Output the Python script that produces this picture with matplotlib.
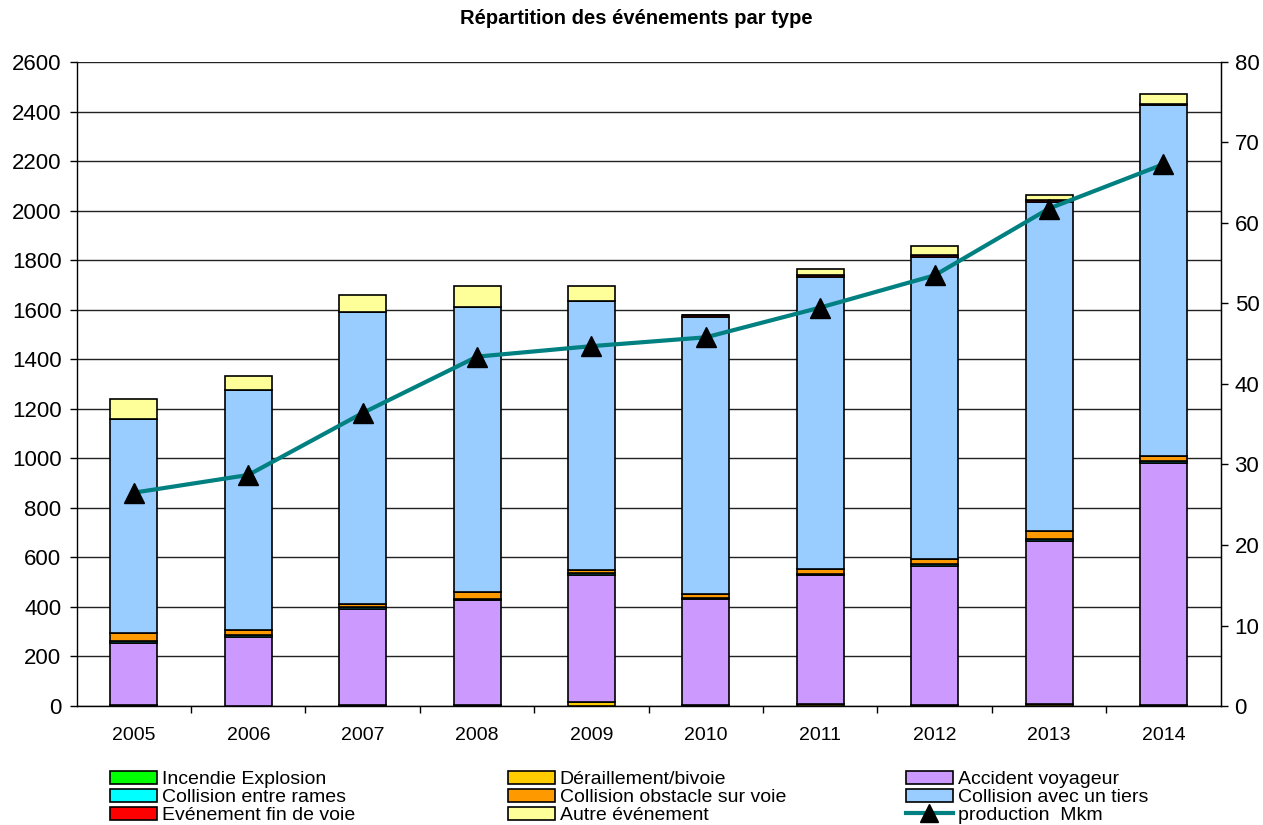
import numpy as np
import matplotlib
matplotlib.use("Agg")
import matplotlib.pyplot as plt
from matplotlib.lines import Line2D

plt.rcParams['font.family'] = ['Liberation Sans', 'DejaVu Sans']

years = ['2005', '2006', '2007', '2008', '2009', '2010', '2011', '2012', '2013', '2014']

# events per type (stack order, bottom to top)
incendie = [4, 0, 4, 4, 2, 3, 0, 4, 0, 4]
deraillement = [0, 0, 0, 0, 15, 0, 10, 0, 10, 0]
accident_voyageur = [252, 277, 386, 425, 512, 427, 519, 562, 657, 978]
collision_rames = [8, 8, 8, 3, 8, 6, 4, 6, 6, 6]
collision_obstacle = [29, 22, 14, 28, 12, 15, 19, 21, 33, 21]
collision_tiers = [864, 969, 1179, 1151, 1086, 1118, 1181, 1221, 1329, 1417]
fin_de_voie = [0, 0, 0, 0, 0, 8, 6, 6, 6, 6]
autre = [82, 57, 68, 86, 62, 0, 26, 37, 21, 39]

production = [26.5, 28.7, 36.4, 43.4, 44.7, 45.8, 49.5, 53.5, 61.8, 67.3]

series = [
    ('Incendie Explosion', incendie, '#00FF00'),
    ('Déraillement/bivoie', deraillement, '#FFCC00'),
    ('Accident voyageur', accident_voyageur, '#CC99FF'),
    ('Collision entre rames', collision_rames, '#00FFFF'),
    ('Collision obstacle sur voie', collision_obstacle, '#FF9900'),
    ('Collision avec un tiers', collision_tiers, '#99CCFF'),
    ('Evénement fin de voie', fin_de_voie, '#FF0000'),
    ('Autre événement', autre, '#FFFF99'),
]

fig = plt.figure(figsize=(12.63, 8.25), dpi=100)
ax = fig.add_axes([76.7 / 1263, 1 - 706 / 825, (1220.7 - 76.7) / 1263, (706 - 62) / 825])

x = np.arange(len(years))
bottom = np.zeros(len(years))
handles = {}
for name, vals, col in series:
    vals = np.array(vals, dtype=float)
    b = ax.bar(x, vals, 0.41, bottom=bottom, color=col, edgecolor='black', linewidth=1.2, zorder=3)
    handles[name] = b
    bottom += vals

ax.set_xlim(-0.5, len(years) - 0.5)
ax.set_ylim(0, 2600)
ax.set_yticks(np.arange(0, 2601, 200))
ax.yaxis.grid(True, color='#222222', linewidth=1.0, zorder=0)
ax.set_axisbelow(True)
ax.set_xticks(x)
ax.set_xticklabels(years, fontsize=14)
ax.set_xticks(np.arange(0.5, len(years) - 0.5, 1), minor=True)
ax.tick_params(axis='x', which='major', length=0, pad=15)
ax.tick_params(axis='x', which='minor', length=5, width=1, direction='out')
ax.tick_params(axis='y', labelsize=16, length=5, width=1, direction='out', pad=6)
ax.spines['top'].set_visible(False)
ax.spines['left'].set_linewidth(1.0)
ax.spines['bottom'].set_linewidth(1.0)

ax2 = ax.twinx()
ax2.plot(x, production, color='#008080', linewidth=3.0, marker='^', markersize=14,
         markerfacecolor='black', markeredgecolor='black', zorder=5)
ax2.set_ylim(0, 80)
ax2.set_yticks(np.arange(0, 81, 10))
ax2.tick_params(axis='y', labelsize=16, length=5, width=1, direction='out', pad=5)
ax2.spines['top'].set_visible(False)
ax2.spines['left'].set_visible(False)
ax2.spines['bottom'].set_visible(False)
ax2.spines['right'].set_linewidth(1.0)

fig.text(636 / 1263, 1 - 18 / 825, 'Répartition des événements par type',
         ha='center', va='center', fontsize=14.5, fontweight='bold')

line_handle = Line2D([], [], color='#008080', linewidth=3.0, marker='^', markersize=13,
                     markerfacecolor='black', markeredgecolor='black')
handles['production  Mkm'] = line_handle

columns = [
    (110, ['Incendie Explosion', 'Collision entre rames', 'Evénement fin de voie']),
    (508, ['Déraillement/bivoie', 'Collision obstacle sur voie', 'Autre événement']),
    (906, ['Accident voyageur', 'Collision avec un tiers', 'production  Mkm']),
]
for xpos, names in columns:
    leg = fig.legend([handles[n] for n in names], names, loc='upper left',
                     bbox_to_anchor=(xpos / 1263, 1 - 771 / 825), frameon=False,
                     fontsize=14, handlelength=2.4, handleheight=0.65,
                     handletextpad=0.25, labelspacing=0.03, borderpad=0, borderaxespad=0)

fig.savefig('out.png', dpi=100)
